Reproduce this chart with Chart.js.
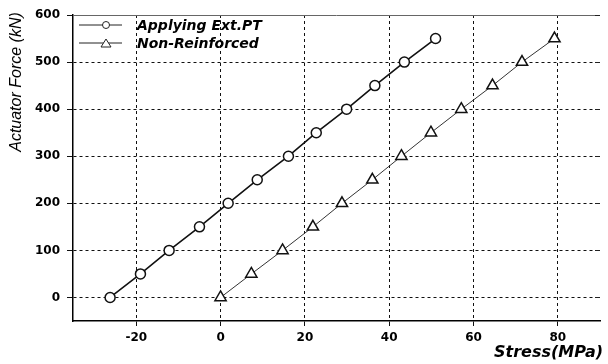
<!DOCTYPE html>
<html>
<head>
<meta charset="utf-8">
<script src="https://cdn.jsdelivr.net/npm/chart.js@4.4.1/dist/chart.umd.min.js"></script>
<style>
  html, body { margin: 0; padding: 0; background: #fff; }
  #wrap { width: 608px; height: 364px; position: relative; }
</style>
</head>
<body>
<div id="wrap"><canvas id="grafico" width="608" height="364"></canvas></div>
<script>
// actuator force levels (kN)
const forceLevels = [0, 50, 100, 150, 200, 250, 300, 350, 400, 450, 500, 550];
// stress (MPa)
const stressExtPT = [-26.2, -19.0, -12.2, -5.0, 1.8, 8.7, 16.1, 22.7, 29.9, 36.6, 43.6, 51.0];
const stressNonReinf = [0, 7.3, 14.7, 21.9, 28.8, 36.0, 42.9, 49.9, 57.1, 64.5, 71.5, 79.2];
const xTicks = [-20, 0, 20, 40, 60, 80];
const yTicks = [0, 100, 200, 300, 400, 500, 600];
const seriesNames = ['Applying Ext.PT', 'Non-Reinforced'];

const tickFont = { family: 'DejaVu Sans', size: 12, weight: 'bold' };

function pares(xs) {
    return xs.map((x, i) => ({ x: x, y: forceLevels[i] }));
}

// titulos dos eixos, legenda e bordas
const extras = {
    id: 'extras',
    afterDraw(chart) {
        const ctx = chart.ctx;
        const a = chart.chartArea;
        ctx.save();

        // borda superior / direita
        ctx.strokeStyle = '#666';
        ctx.lineWidth = 1;
        ctx.beginPath();
        ctx.moveTo(a.left, a.top + 0.5);
        ctx.lineTo(a.right, a.top + 0.5);
        ctx.stroke();
        // pequenos tracos na direita
        ctx.strokeStyle = '#222';
        ctx.beginPath();
        yTicks.forEach(v => {
            const y = Math.round(chart.scales.y.getPixelForValue(v)) + 0.5;
            ctx.moveTo(a.right - 5, y);
            ctx.lineTo(a.right, y);
        });
        ctx.stroke();

        // titulo eixo y
        ctx.fillStyle = '#000';
        ctx.font = 'italic 16px "Liberation Sans"';
        ctx.textAlign = 'center';
        ctx.textBaseline = 'middle';
        ctx.translate(17, 82);
        ctx.rotate(-Math.PI / 2);
        ctx.fillText('Actuator Force (kN)', 0, 0);
        ctx.setTransform(1, 0, 0, 1, 0, 0);

        // titulo eixo x
        ctx.font = 'italic bold 16px "DejaVu Sans"';
        ctx.textAlign = 'right';
        ctx.fillText('Stress(MPa)', 603, 353);

        // legenda
        const rows = [25, 43];
        rows.forEach((y, i) => {
            ctx.strokeStyle = '#222';
            ctx.lineWidth = 1;
            ctx.beginPath();
            ctx.moveTo(79, y);
            ctx.lineTo(122, y);
            ctx.stroke();
            ctx.fillStyle = '#fff';
            ctx.beginPath();
            if (i === 0) {
                ctx.arc(106, y, 3.5, 0, Math.PI * 2);
            } else {
                ctx.moveTo(106, y - 4);
                ctx.lineTo(111, y + 4);
                ctx.lineTo(101, y + 4);
                ctx.closePath();
            }
            ctx.fill();
            ctx.stroke();
            ctx.fillStyle = '#000';
            ctx.font = 'italic bold 14px "DejaVu Sans"';
            ctx.textAlign = 'left';
            ctx.fillText(seriesNames[i], 137, y + 1);
        });
        ctx.restore();
    }
};

new Chart(document.getElementById('grafico'), {
    type: 'line',
    data: {
        datasets: [
            {
                label: seriesNames[0],
                data: pares(stressExtPT),
                borderColor: '#111',
                borderWidth: 1.6,
                pointStyle: 'circle',
                pointRadius: 5,
                pointBorderWidth: 1.5,
                pointBackgroundColor: '#fff',
                pointBorderColor: '#111',
                tension: 0
            },
            {
                label: seriesNames[1],
                data: pares(stressNonReinf),
                borderColor: '#333',
                borderWidth: 1,
                pointStyle: 'triangle',
                pointRadius: 6.5,
                pointBorderWidth: 1.5,
                pointBackgroundColor: '#fff',
                pointBorderColor: '#111',
                tension: 0
            }
        ]
    },
    options: {
        responsive: false,
        animation: false,
        layout: { padding: { top: 15, right: 0, left: 0, bottom: 0 } },
        plugins: { legend: { display: false }, tooltip: { enabled: false } },
        scales: {
            x: {
                type: 'linear',
                min: -35,
                max: 90,
                afterBuildTicks: s => { s.ticks = xTicks.map(v => ({ value: v })); },
                afterFit: s => { s.height = 43; },
                grid: {
                    color: '#111',
                    lineWidth: 1,
                    tickLength: 5,
                    tickColor: '#111'
                },
                border: { display: true, color: '#000', width: 1.5, dash: [3, 3] },
                ticks: { font: tickFont, color: '#000', padding: 5, maxRotation: 0 }
            },
            y: {
                type: 'linear',
                min: -50,
                max: 600,
                afterBuildTicks: s => { s.ticks = yTicks.map(v => ({ value: v })); },
                afterFit: s => { s.width = 73; },
                grid: {
                    color: '#111',
                    lineWidth: 1,
                    tickLength: 6,
                    tickColor: '#111'
                },
                border: { display: true, color: '#000', width: 1.5, dash: [3, 3] },
                ticks: { font: tickFont, color: '#000', padding: 7 }
            }
        }
    },
    plugins: [extras]
});
</script>
</body>
</html>
